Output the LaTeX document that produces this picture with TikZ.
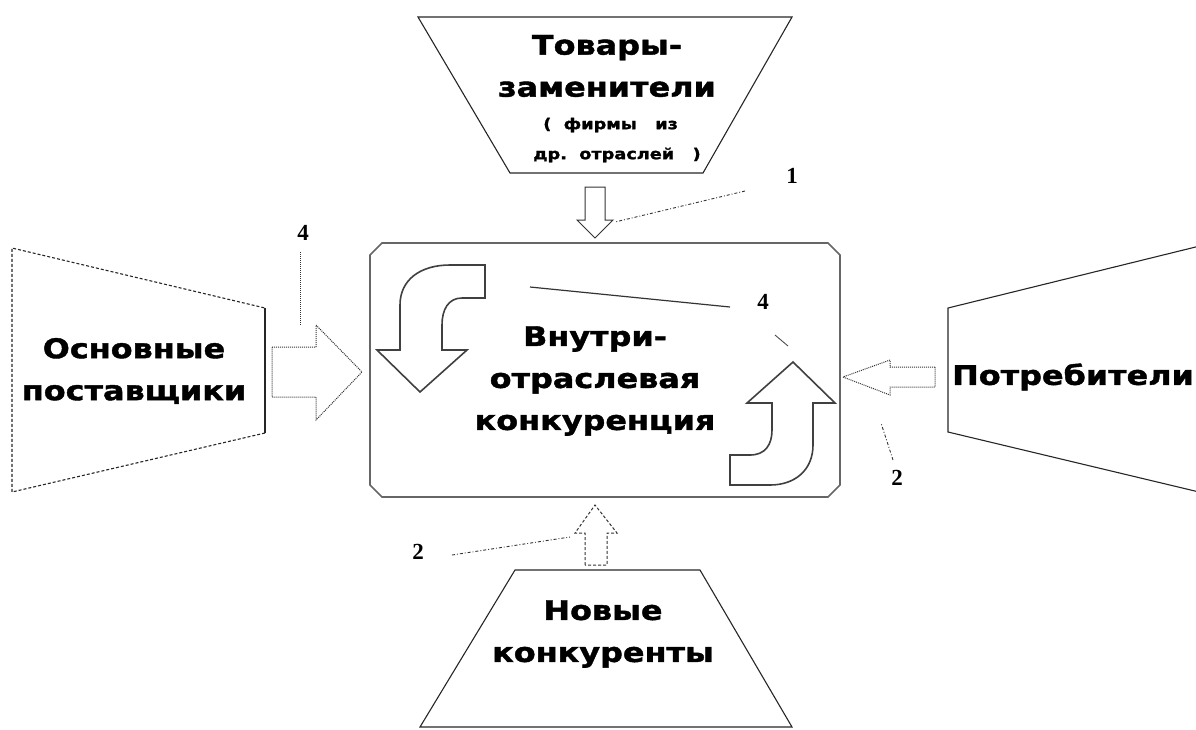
\documentclass[tikz,border=0pt]{standalone}
\usepackage{fontspec}
\setmainfont{DejaVu Sans}
\newfontfamily\heavyfont[FakeStretch=1.18,FakeBold=1.5]{DejaVu Sans Bold}
\newfontfamily\numfont{Liberation Serif}
\usetikzlibrary{positioning,calc}

\begin{document}
\begin{tikzpicture}[x=1pt,y=-1pt]
    \def\ch{12}
    \tikzset{
        edge/.style={draw=black!85, line width=1.1pt},
        frame/.style={draw=black!60, line width=1.6pt},
        bigtext/.style={font=\heavyfont\fontsize{27}{42}\selectfont, align=center, inner sep=0pt},
        smalltext/.style={font=\heavyfont\fontsize{15}{30}\selectfont, align=left, inner sep=0pt},
        numlabel/.style={font=\numfont\bfseries\fontsize{23}{23}\selectfont, inner sep=1pt},
        leader/.style={draw=black!80, line width=0.9pt, dash dot},
        hollow/.style={draw=black!80, line width=1pt, fill=white},
        curved/.style={draw=black!75, line width=1.6pt, fill=white}
    }
    \useasboundingbox (0,0) rectangle (1196,729);
    \clip (0,0) rectangle (1196,729);
    % Trapezoids
    \draw[edge] (418,17) -- (792,17) -- (703,173) -- (510,173) -- cycle;       % top
    \draw[edge] (265,308) -- (265,433);                                        % left
    \draw[edge, densely dashed] (265,433) -- (12,492) -- (12,248) -- (265,308);
    \draw[edge] (1220,241) -- (948,308) -- (948,432) -- (1220,497);            % right
    \draw[edge] (515,570) -- (700,570) -- (792,727) -- (420,727) -- cycle;     % bottom
    % Main box
    \draw[frame] (370+\ch,243) -- (840-\ch,243) -- (840,243+\ch) -- (840,497-\ch)
        -- (840-\ch,497) -- (370+\ch,497) -- (370,497-\ch) -- (370,243+\ch) -- cycle;
    % Texts
    \node[bigtext] (subst) at (607,66) {Товары-\\заменители};
    \node[smalltext] (firms) at (617,140) {\hspace*{10pt}(\ \ фирмы\ \ \ из\\др.\ \ отраслей\ \ \ )};
    \node[bigtext] (supl) at (134,371) {Основные\\поставщики};
    \node[bigtext] (buyer) at (1073,377) {Потребители};
    \node[bigtext] (rival) at (595,381) {Внутри-\\отраслевая\\конкуренция};
    \node[bigtext] (newc) at (603,634) {Новые\\конкуренты};
    % Curved arrows inside the box
    \draw[curved] (485,265) -- (485,298) -- (462,298) .. controls (448,298) and (442,310) .. (442,325)
        -- (442,350) -- (467,350) -- (420,392) -- (377,350) -- (400,350) -- (400,305)
        .. controls (400,280) and (420,265) .. (450,265) -- cycle;
    \draw[curved] (730,485) -- (730,455) -- (750,455) .. controls (765,455) and (772,445) .. (772,430)
        -- (772,403) -- (747,403) -- (793,362) -- (835,403) -- (813,403) -- (813,445)
        .. controls (813,470) and (795,485) .. (770,485) -- cycle;
    % Block arrows
    \draw[hollow] (585,187) -- (605,187) -- (605,220) -- (613,220) -- (595,238)
        -- (577,220) -- (585,220) -- cycle;                                     % down
    \draw[hollow, densely dotted] (272,347) -- (316,347) -- (316,325) -- (362,372)
        -- (316,420) -- (316,397) -- (272,397) -- cycle;                        % right
    \draw[hollow, densely dotted] (935,367) -- (890,367) -- (890,360) -- (843,377)
        -- (890,395) -- (890,387) -- (935,387) -- cycle;                        % left
    \draw[hollow, densely dashed] (585,565) -- (585,533) -- (575,533) -- (595,505)
        -- (617,533) -- (607,533) -- (607,565) -- cycle;                        % up
    % Number labels and leaders
    \node[numlabel] (one) at (792,176) {1};
    \node[numlabel] (fourA) at (303,233) {4};
    \node[numlabel] (fourB) at (763,302) {4};
    \node[numlabel] (twoA) at (897,478) {2};
    \node[numlabel] (twoB) at (418,552) {2};
    \coordinate (oneEnd) at (615,222);
    \coordinate (fourAEnd) at (300,325);
    \coordinate (fourBEnd) at (530,287);
    \coordinate (fourBTip) at (788,346);
    \coordinate (twoAEnd) at (881,423);
    \coordinate (twoBEnd) at (570,537);
    \draw[leader] (745,191) -- (oneEnd);
    \draw[draw=black!80, line width=1pt, densely dotted] (300,252) -- (fourAEnd);
    \draw[draw=black!80, line width=1.2pt] (730,307) -- (fourBEnd);
    \draw[draw=black!70, line width=0.9pt] (775,335) -- (fourBTip);
    \draw[leader] (893,460) -- (twoAEnd);
    \draw[leader] (452,555) -- (twoBEnd);
\end{tikzpicture}
\end{document}
